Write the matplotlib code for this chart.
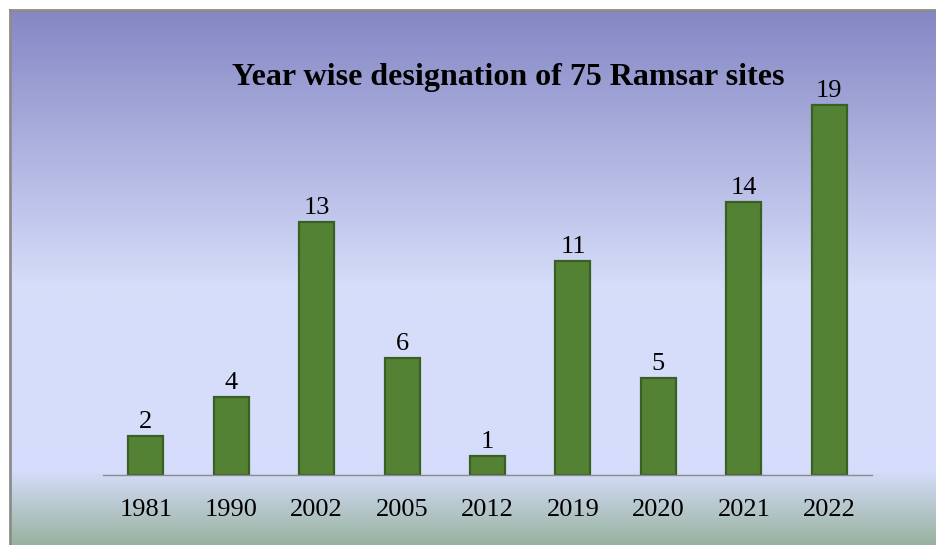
import numpy as np
import matplotlib.pyplot as plt
from matplotlib.colors import LinearSegmentedColormap

years = ['1981', '1990', '2002', '2005', '2012', '2019', '2020', '2021', '2022']
sites = [2, 4, 13, 6, 1, 11, 5, 14, 19]

plt.rcParams['font.family'] = ['Liberation Serif', 'DejaVu Serif']

fig = plt.figure(figsize=(9.36, 5.45), dpi=100)

# background panel with vertical gradient
bg = fig.add_axes([10 / 936, 0, 926 / 936, 535 / 545])
stops = [(0.0, (0.52, 0.53, 0.77)),
         (0.52, (0.84, 0.87, 0.98)),
         (0.86, (0.84, 0.87, 0.99)),
         (1.0, (0.60, 0.70, 0.63))]
cmap = LinearSegmentedColormap.from_list('panel', stops)
grad = np.linspace(0, 1, 400).reshape(-1, 1)
bg.imshow(grad, aspect='auto', cmap=cmap, extent=[0, 1, 1, 0])
bg.set_xlim(0, 1)
bg.set_ylim(1, 0)
bg.set_xticks([])
bg.set_yticks([])
for side in ['right', 'bottom']:
    bg.spines[side].set_visible(False)
for side in ['left', 'top']:
    bg.spines[side].set_color('#8c8c8c')
    bg.spines[side].set_linewidth(2)

# chart
ax = fig.add_axes([103 / 936, 1 - 475 / 545, 769 / 936, 390 / 545])
ax.patch.set_alpha(0)
x = np.arange(len(years))
bars = ax.bar(x, sites, width=0.41, color='#548235', edgecolor='#3a5f22', linewidth=1.6)
ax.bar_label(bars, padding=2, fontsize=19)
ax.set_xlim(-0.5, len(years) - 0.5)
ax.set_ylim(0, 20)
ax.set_xticks(x)
ax.set_xticklabels(years, fontsize=19)
ax.tick_params(axis='x', length=0, pad=17)
ax.set_yticks([])
for side in ['left', 'right', 'top']:
    ax.spines[side].set_visible(False)
ax.spines['bottom'].set_color('#8c8c8c')
ax.spines['bottom'].set_linewidth(1)

fig.text(508 / 936, 1 - 77 / 545, 'Year wise designation of 75 Ramsar sites',
         ha='center', va='center', fontsize=23, fontweight='bold')

fig.savefig('out.png', dpi=100)
